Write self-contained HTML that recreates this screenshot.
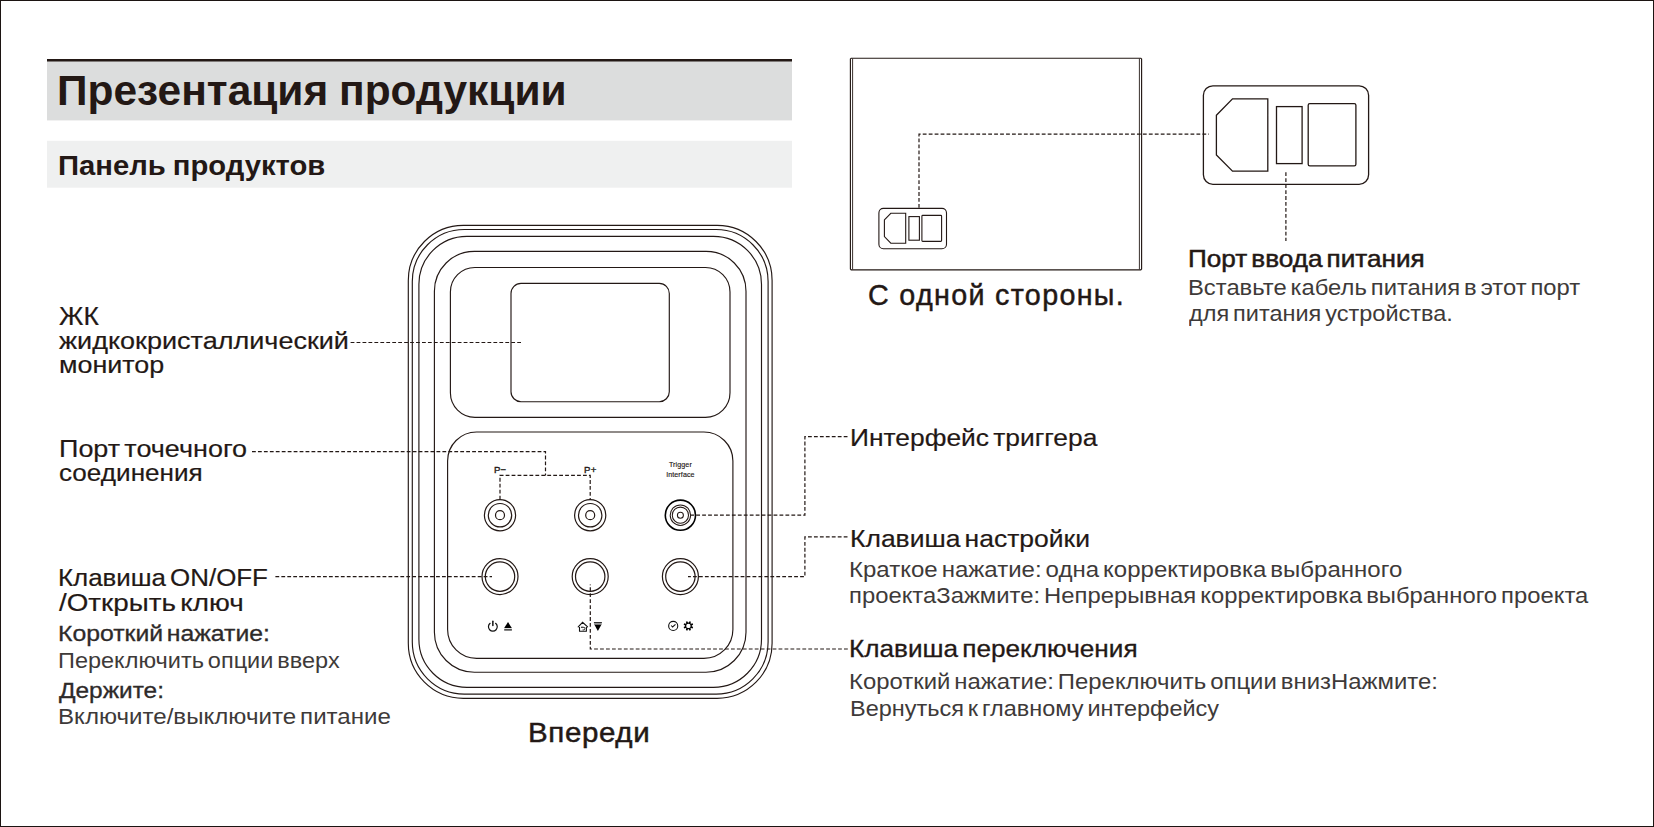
<!DOCTYPE html>
<html lang="ru"><head><meta charset="utf-8"><title>Презентация продукции</title>
<style>
html,body{margin:0;padding:0;background:#fff}
body{width:1654px;height:827px;position:relative;overflow:hidden;font-family:"Liberation Sans",sans-serif;color:#231815}
.frame{position:absolute;left:0;top:0;width:1652px;height:825px;border:1px solid #1c1412;box-sizing:content-box}
.t{position:absolute;white-space:nowrap;line-height:1;transform-origin:0 0;margin:0}
</style></head><body>
<div class="frame"></div>
<svg width="1654" height="827" viewBox="0 0 1654 827" style="position:absolute;left:0;top:0">
<rect x="47" y="59" width="745" height="61.4" fill="#dcdddd"/>
<rect x="47" y="59" width="745" height="2.5" fill="#231815"/>
<rect x="47" y="140.8" width="745" height="46.9" fill="#eff0f0"/>
<g>
<rect x="408.3" y="225.4" width="363.8" height="472.9" rx="55" ry="55" fill="none" stroke="#231815" stroke-width="1.15" />
<rect x="412.3" y="229.5" width="355.8" height="464.6" rx="52" ry="52" fill="none" stroke="#231815" stroke-width="1.15" />
<rect x="418.9" y="236.3" width="342.6" height="451.0" rx="48" ry="48" fill="none" stroke="#231815" stroke-width="1.15" />
<rect x="434.4" y="251.3" width="311.6" height="420.9" rx="40" ry="40" fill="none" stroke="#231815" stroke-width="1.15" />
<rect x="450.4" y="267.5" width="279.6" height="149.8" rx="24.5" ry="24.5" fill="none" stroke="#231815" stroke-width="1.15" />
<rect x="511.0" y="283.4" width="158.3" height="118.3" rx="10" ry="10" fill="none" stroke="#231815" stroke-width="1.15" />
<rect x="447.6" y="432.0" width="285.3" height="226.4" rx="29" ry="29" fill="none" stroke="#231815" stroke-width="1.15" />
<circle cx="500.0" cy="515.2" r="15.6" fill="none" stroke="#231815" stroke-width="1.2"/>
<circle cx="500.0" cy="515.2" r="11.7" fill="none" stroke="#231815" stroke-width="1.2"/>
<circle cx="500.0" cy="515.2" r="4.5" fill="none" stroke="#231815" stroke-width="1.2"/>
<circle cx="590.2" cy="515.2" r="15.6" fill="none" stroke="#231815" stroke-width="1.2"/>
<circle cx="590.2" cy="515.2" r="11.7" fill="none" stroke="#231815" stroke-width="1.2"/>
<circle cx="590.2" cy="515.2" r="4.5" fill="none" stroke="#231815" stroke-width="1.2"/>
<circle cx="680.4" cy="515.2" r="15.1" fill="none" stroke="#000" stroke-width="1.6"/>
<circle cx="680.4" cy="515.2" r="10.2" fill="none" stroke="#231815" stroke-width="1.05"/>
<circle cx="680.4" cy="515.2" r="8.1" fill="none" stroke="#231815" stroke-width="1.05"/>
<circle cx="680.4" cy="515.2" r="3" fill="none" stroke="#231815" stroke-width="1.05"/>
<circle cx="500.0" cy="576.6" r="18" fill="none" stroke="#231815" stroke-width="1.2"/>
<circle cx="500.0" cy="576.6" r="14.7" fill="none" stroke="#231815" stroke-width="1.2"/>
<circle cx="590.2" cy="576.6" r="18" fill="none" stroke="#231815" stroke-width="1.2"/>
<circle cx="590.2" cy="576.6" r="14.7" fill="none" stroke="#231815" stroke-width="1.2"/>
<circle cx="680.4" cy="576.6" r="18" fill="none" stroke="#231815" stroke-width="1.2"/>
<circle cx="680.4" cy="576.6" r="14.7" fill="none" stroke="#231815" stroke-width="1.2"/>
</g>
<g>
<path d="M495.6 623.3 A4.4 4.4 0 1 1 490.1 623.3" fill="none" stroke="#111" stroke-width="1.2" stroke-linecap="round"/>
<path d="M492.85 621.3 V625.4" fill="none" stroke="#111" stroke-width="1.5" stroke-linecap="round"/>
<path d="M508 622 L511.8 627.9 H504.2 Z" fill="#000"/>
<rect x="504.2" y="628.8" width="7.7" height="1.9" fill="#555"/>
<path d="M578.2 626.8 L582.6 622.3 L587.6 626.8" fill="none" stroke="#111" stroke-width="1.1" stroke-linecap="round" stroke-linejoin="miter"/>
<path d="M579.5 626.9 V631.2 H586.4 V626.9" fill="none" stroke="#111" stroke-width="1.1" stroke-linejoin="round"/>
<path d="M581.4 627.3 H584 Q584.9 627.3 584.9 628.6 Q584.9 629.9 583.6 629.9 H582.6" fill="none" stroke="#111" stroke-width="0.9"/>
<path d="M582.2 626.3 L581 627.3 L582.2 628.3 Z" fill="#111"/>
<rect x="593.9" y="622" width="8" height="1.2" fill="#333"/>
<rect x="594.1" y="623.2" width="7.6" height="1.6" fill="#888"/>
<path d="M594.4 624.8 H601.4 L597.9 630.9 Z" fill="#000"/>
<circle cx="673.2" cy="625.9" r="4.55" fill="none" stroke="#111" stroke-width="1.1"/>
<path d="M671.2 625.5 L672.6 627 L675.5 624.3" fill="none" stroke="#111" stroke-width="1.05"/>
<path d="M691.77 626.34 L693.16 627.04 L692.58 628.46 L691.10 627.97 L690.47 628.60 L690.96 630.08 L689.54 630.66 L688.84 629.27 L687.96 629.27 L687.26 630.66 L685.84 630.08 L686.33 628.60 L685.70 627.97 L684.22 628.46 L683.64 627.04 L685.03 626.34 L685.03 625.46 L683.64 624.76 L684.22 623.34 L685.70 623.83 L686.33 623.20 L685.84 621.72 L687.26 621.14 L687.96 622.53 L688.84 622.53 L689.54 621.14 L690.96 621.72 L690.47 623.20 L691.10 623.83 L692.58 623.34 L693.16 624.76 L691.77 625.46 Z M690.60 625.9 A2.2 2.2 0 1 0 686.20 625.9 A2.2 2.2 0 1 0 690.60 625.9 Z" fill="#000" fill-rule="evenodd"/>
</g>
<g fill="none" stroke="#231815" stroke-width="1.2" stroke-dasharray="3.8 2.15">
<path d="M350.6 342.5 H523"/>
<path d="M252 451.6 H545.5 V475.4"/>
<path d="M500 499.5 V475.4 H590.2 V499.5"/>
<path d="M275.4 576.6 H492"/>
<path d="M847.5 436.6 H804.9 V515.2 H691"/>
<path d="M847.5 536.9 H804.9 V576.6 H688"/>
<path d="M847.8 649 H590.3 V584.5"/>
<path d="M919 207.8 V134.2 H1209"/>
<path d="M1285.9 172.3 V241"/>
</g>
<g>
<path d="M851.2 58.2 H1140.8 L1141.6 59 V269 L1140.8 269.8 H851.2 L850.4 269 V59 Z" fill="none" stroke="#231815" stroke-width="1.15"/>
<path d="M852.6 58.6 V269.4 M1139.4 58.6 V269.4" fill="none" stroke="#231815" stroke-width="0.9"/>
<rect x="878.9" y="208.4" width="67.6" height="40.4" rx="4.5" ry="4.5" fill="none" stroke="#231815" stroke-width="1.1" />
<path d="M884.4 219.9 L890.8 213.3 H905.7 V243.2 H890.8 L884.4 236.6 Z" fill="none" stroke="#231815" stroke-width="1.1"/>
<rect x="908.9" y="216.6" width="10.5" height="23.6" fill="none" stroke="#231815" stroke-width="1.1"/>
<rect x="921.9" y="215.4" width="19.7" height="26" rx="0.8" fill="none" stroke="#231815" stroke-width="1.1"/>
<rect x="1203.4" y="85.8" width="165.2" height="98.5" rx="9.5" ry="9.5" fill="none" stroke="#231815" stroke-width="1.3" />
<path d="M1216.4 115.3 L1232.5 98.8 H1267.8 V171.1 H1232.5 L1216.4 154.9 Z" fill="none" stroke="#231815" stroke-width="1.3"/>
<rect x="1276.5" y="106.6" width="25.6" height="57" fill="none" stroke="#231815" stroke-width="1.3"/>
<rect x="1308.2" y="103.6" width="47.7" height="62.3" rx="1.6" fill="none" stroke="#231815" stroke-width="1.3"/>
</g>
<g font-family="Liberation Sans, sans-serif" fill="#231815" text-anchor="middle">
<text x="500.2" y="472.9" font-size="9.6" letter-spacing="0.3" stroke="#231815" stroke-width="0.35">P−</text>
<text x="590.3" y="472.9" font-size="9.6" letter-spacing="0.3" stroke="#231815" stroke-width="0.35">P+</text>
<text x="680.4" y="467.4" font-size="7.1" letter-spacing="0.1" stroke="#231815" stroke-width="0.15">Trigger</text>
<text x="680.4" y="476.9" font-size="7.1" letter-spacing="0.1" stroke="#231815" stroke-width="0.15">Interface</text>
</g>
</svg>
<div class="t" style="left:57.10px;top:69.60px;font-size:42.5px;font-weight:700;color:#231815;transform:scaleX(0.9990);word-spacing:-1px;">Презентация продукции</div>
<div class="t" style="left:57.69px;top:150.50px;font-size:28.2px;font-weight:700;color:#231815;transform:scaleX(1.0368);word-spacing:-1px;">Панель продуктов</div>
<div class="t" style="left:58.79px;top:303.50px;font-size:25.4px;font-weight:400;color:#231815;transform:scaleX(1.0414);word-spacing:-3px;-webkit-text-stroke:0.2px #231815;">ЖК</div>
<div class="t" style="left:59.12px;top:328.70px;font-size:24.6px;font-weight:400;color:#231815;transform:scaleX(1.0989);word-spacing:-3px;-webkit-text-stroke:0.2px #231815;">жидкокристаллический</div>
<div class="t" style="left:58.75px;top:352.80px;font-size:24.6px;font-weight:400;color:#231815;transform:scaleX(1.0934);word-spacing:-3px;-webkit-text-stroke:0.2px #231815;">монитор</div>
<div class="t" style="left:58.85px;top:436.60px;font-size:24.8px;font-weight:400;color:#231815;transform:scaleX(1.0873);word-spacing:-3px;-webkit-text-stroke:0.2px #231815;">Порт точечного</div>
<div class="t" style="left:59.32px;top:461.30px;font-size:24.6px;font-weight:400;color:#231815;transform:scaleX(1.0616);word-spacing:-3px;-webkit-text-stroke:0.2px #231815;">соединения</div>
<div class="t" style="left:57.91px;top:565.80px;font-size:24.8px;font-weight:400;color:#231815;transform:scaleX(1.0446);word-spacing:-3px;-webkit-text-stroke:0.2px #231815;">Клавиша ON/OFF</div>
<div class="t" style="left:59.24px;top:590.50px;font-size:24.8px;font-weight:400;color:#231815;transform:scaleX(1.1207);word-spacing:-3px;-webkit-text-stroke:0.2px #231815;">/Открыть ключ</div>
<div class="t" style="left:58.08px;top:623.43px;font-size:22.4px;font-weight:400;color:#2e2a29;transform:scaleX(1.1073);word-spacing:-3px;-webkit-text-stroke:0.3px #2e2a29;">Короткий нажатие:</div>
<div class="t" style="left:58.03px;top:649.70px;font-size:22.6px;font-weight:400;color:#3e3a39;transform:scaleX(1.0405);word-spacing:-2.5px;">Переключить опции вверх</div>
<div class="t" style="left:59.29px;top:680.23px;font-size:22.4px;font-weight:400;color:#2e2a29;transform:scaleX(1.0906);word-spacing:-3px;-webkit-text-stroke:0.3px #2e2a29;">Держите:</div>
<div class="t" style="left:57.96px;top:705.60px;font-size:22.6px;font-weight:400;color:#3e3a39;transform:scaleX(1.0664);word-spacing:-2.5px;">Включите/выключите питание</div>
<div class="t" style="left:528.35px;top:718.23px;font-size:28.4px;font-weight:400;color:#231815;transform:scaleX(1.0389);letter-spacing:0.6px;-webkit-text-stroke:0.5px #231815;">Впереди</div>
<div class="t" style="left:867.77px;top:281.43px;font-size:28.6px;font-weight:400;color:#231815;transform:scaleX(1.0041);letter-spacing:1.3px;-webkit-text-stroke:0.45px #231815;">С одной стороны.</div>
<div class="t" style="left:1187.95px;top:247.43px;font-size:24.4px;font-weight:400;color:#231815;transform:scaleX(1.0717);word-spacing:-3px;-webkit-text-stroke:0.5px #231815;">Порт ввода питания</div>
<div class="t" style="left:1188.19px;top:276.50px;font-size:22.6px;font-weight:400;color:#3e3a39;transform:scaleX(1.0526);word-spacing:-2.5px;">Вставьте кабель питания в этот порт</div>
<div class="t" style="left:1188.91px;top:302.60px;font-size:22.6px;font-weight:400;color:#3e3a39;transform:scaleX(1.0402);word-spacing:-2.5px;">для питания устройства.</div>
<div class="t" style="left:849.88px;top:426.40px;font-size:24.6px;font-weight:400;color:#231815;transform:scaleX(1.0732);word-spacing:-3px;-webkit-text-stroke:0.2px #231815;">Интерфейс триггера</div>
<div class="t" style="left:849.77px;top:526.60px;font-size:24.8px;font-weight:400;color:#231815;transform:scaleX(1.0681);word-spacing:-3px;-webkit-text-stroke:0.2px #231815;">Клавиша настройки</div>
<div class="t" style="left:849.17px;top:559.20px;font-size:22.6px;font-weight:400;color:#3e3a39;transform:scaleX(1.0627);word-spacing:-2.5px;">Краткое нажатие: одна корректировка выбранного</div>
<div class="t" style="left:849.45px;top:585.30px;font-size:22.6px;font-weight:400;color:#3e3a39;transform:scaleX(1.0546);word-spacing:-2.5px;">проектаЗажмите: Непрерывная корректировка выбранного проекта</div>
<div class="t" style="left:849.46px;top:636.93px;font-size:24.6px;font-weight:400;color:#231815;transform:scaleX(1.0643);word-spacing:-3px;-webkit-text-stroke:0.3px #231815;">Клавиша переключения</div>
<div class="t" style="left:849.48px;top:671.00px;font-size:22.6px;font-weight:400;color:#3e3a39;transform:scaleX(1.0578);word-spacing:-2.5px;">Короткий нажатие: Переключить опции внизНажмите:</div>
<div class="t" style="left:849.72px;top:698.20px;font-size:22.6px;font-weight:400;color:#3e3a39;transform:scaleX(1.0392);word-spacing:-2.5px;">Вернуться к главному интерфейсу</div>
</body></html>
